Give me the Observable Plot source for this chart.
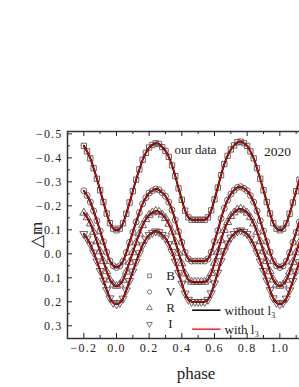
<!DOCTYPE html>
<html><head><meta charset="utf-8">
<script src="https://cdn.jsdelivr.net/npm/d3@7"></script>
<script src="https://cdn.jsdelivr.net/npm/@observablehq/plot@0.6"></script>
<style>
html,body{margin:0;padding:0;overflow:hidden;background:#fff;width:299px;height:387px}
#chart{width:299px;height:387px;overflow:hidden}
#chart svg{display:block;max-width:none!important;width:312px!important;height:387px!important}
#chart [aria-label$="tick label"] text{letter-spacing:1.2px}
</style></head><body><div id="chart"></div>
<script>
const phase = [-0.20,-0.18,-0.16,-0.14,-0.12,-0.10,-0.08,-0.06,-0.04,-0.02,0.00,0.02,0.04,0.06,0.08,0.10,0.12,0.14,0.16,0.18,0.20,0.22,0.24,0.26,0.28,0.30,0.32,0.34,0.36,0.38,0.40,0.42,0.44,0.46,0.48,0.50,0.52,0.54,0.56,0.58,0.60,0.62,0.64,0.66,0.68,0.70,0.72,0.74,0.76,0.78,0.80,0.82,0.84,0.86,0.88,0.90,0.92,0.94,0.96,0.98,1.00,1.02,1.04,1.06,1.08,1.10,1.12,1.14,1.16,1.18,1.20];
const magB = [-0.450,-0.427,-0.398,-0.357,-0.313,-0.265,-0.216,-0.168,-0.128,-0.105,-0.098,-0.105,-0.127,-0.167,-0.214,-0.261,-0.309,-0.352,-0.392,-0.421,-0.443,-0.454,-0.461,-0.458,-0.445,-0.429,-0.404,-0.369,-0.324,-0.273,-0.225,-0.180,-0.152,-0.142,-0.142,-0.142,-0.142,-0.142,-0.152,-0.181,-0.227,-0.276,-0.328,-0.374,-0.409,-0.435,-0.452,-0.465,-0.468,-0.461,-0.450,-0.427,-0.398,-0.357,-0.313,-0.265,-0.216,-0.168,-0.128,-0.105,-0.098,-0.105,-0.127,-0.167,-0.214,-0.261,-0.309,-0.352,-0.392,-0.421,-0.443];
const magV = [-0.263,-0.243,-0.216,-0.179,-0.138,-0.095,-0.051,-0.007,0.030,0.050,0.057,0.050,0.031,-0.005,-0.048,-0.090,-0.133,-0.172,-0.208,-0.234,-0.254,-0.263,-0.270,-0.267,-0.255,-0.240,-0.216,-0.183,-0.141,-0.093,-0.048,-0.006,0.021,0.030,0.030,0.030,0.030,0.030,0.021,-0.007,-0.051,-0.097,-0.147,-0.190,-0.224,-0.249,-0.265,-0.277,-0.280,-0.273,-0.263,-0.243,-0.216,-0.179,-0.138,-0.095,-0.051,-0.007,0.030,0.050,0.057,0.050,0.031,-0.005,-0.048,-0.090,-0.133,-0.172,-0.208,-0.234,-0.254];
const magR = [-0.171,-0.152,-0.126,-0.091,-0.052,-0.010,0.031,0.073,0.108,0.128,0.134,0.128,0.109,0.075,0.034,-0.006,-0.047,-0.084,-0.119,-0.144,-0.162,-0.172,-0.178,-0.175,-0.163,-0.149,-0.125,-0.092,-0.051,-0.004,0.040,0.082,0.108,0.117,0.117,0.117,0.117,0.117,0.108,0.081,0.038,-0.008,-0.056,-0.099,-0.132,-0.157,-0.172,-0.184,-0.187,-0.181,-0.171,-0.152,-0.126,-0.091,-0.052,-0.010,0.031,0.073,0.108,0.128,0.134,0.128,0.109,0.075,0.034,-0.006,-0.047,-0.084,-0.119,-0.144,-0.162];
const magI = [-0.083,-0.064,-0.039,-0.006,0.031,0.071,0.111,0.151,0.185,0.204,0.210,0.204,0.186,0.152,0.113,0.073,0.034,-0.003,-0.036,-0.061,-0.079,-0.088,-0.094,-0.091,-0.079,-0.065,-0.041,-0.009,0.032,0.079,0.124,0.165,0.191,0.200,0.200,0.200,0.200,0.200,0.191,0.164,0.123,0.078,0.030,-0.012,-0.044,-0.068,-0.083,-0.095,-0.098,-0.092,-0.083,-0.064,-0.039,-0.006,0.031,0.071,0.111,0.151,0.185,0.204,0.210,0.204,0.186,0.152,0.113,0.073,0.034,-0.003,-0.036,-0.061,-0.079];
const bands = ["B","V","R","I"];
const xLabels = [-0.2,0.0,0.2,0.4,0.6,0.8,1.0];
const xMajor = [-0.2,0.0,0.2,0.4,0.6,0.8,1.0,1.2];
const xMinor = [-0.3,-0.1,0.1,0.3,0.5,0.7,0.9,1.1];
const yMajor = [-0.5,-0.4,-0.3,-0.2,-0.1,0.0,0.1,0.2,0.3];
const yMinor = [-0.45,-0.35,-0.25,-0.15,-0.05,0.05,0.15,0.25];
const lineLabels = ["without l\u2083","with l\u2083"];

const triDown = {draw(ctx, size){const s3=Math.sqrt(3);const y=-Math.sqrt(size/(s3*3));ctx.moveTo(0,-y*2);ctx.lineTo(-s3*y,y);ctx.lineTo(s3*y,y);ctx.closePath();}};
const symbols = {B:"square",V:"circle",R:"triangle",I:triDown};
const series = {B:magB,V:magV,R:magR,I:magI};
const rows = bands.flatMap(b => phase.map((p,i)=>({phase:p, mag:series[b][i], band:b})));
const fmt = d => (d < 0 ? "\u2212" : "") + Math.abs(d).toFixed(1);
const ink = "#222";
const H = 387, MT = 131, MB = 49, ML = 67, W = 312;
const FH = H - MT - MB, FW = W - ML;

const marks = [];
for (const b of bands) {
  marks.push(Plot.dot(rows.filter(r=>r.band===b), {x:"phase", y:"mag", symbol: () => symbols[b], r:3, stroke:"#555", strokeWidth:0.9, fill:"none"}));
}
for (const b of bands) marks.push(Plot.line(rows.filter(r=>r.band===b), {x:"phase", y:"mag", curve:"catmull-rom", stroke:"black", strokeWidth:2}));
for (const b of bands) marks.push(Plot.line(rows.filter(r=>r.band===b), {x:"phase", y:"mag", curve:"catmull-rom", stroke:"#ff0000", strokeWidth:1.1}));

// inward ticks
marks.push(Plot.tickX(xMajor, {x:d=>d, insetTop:FH-5, stroke:ink, strokeWidth:1}));
marks.push(Plot.tickX(xMinor, {x:d=>d, insetTop:FH-3, stroke:ink, strokeWidth:1}));
marks.push(Plot.tickX(xMajor, {x:d=>d, insetBottom:FH-5, stroke:ink, strokeWidth:1}));
marks.push(Plot.tickX(xMinor, {x:d=>d, insetBottom:FH-3, stroke:ink, strokeWidth:1}));
marks.push(Plot.tickY(yMajor, {y:d=>d, insetRight:FW-5, stroke:ink, strokeWidth:1}));
marks.push(Plot.tickY(yMinor, {y:d=>d, insetRight:FW-3, stroke:ink, strokeWidth:1}));
marks.push(Plot.frame({stroke:"#333", strokeWidth:1.5}));
marks.push(Plot.axisX({ticks:xLabels, tickSize:0, tickPadding:5, tickFormat:fmt, fontSize:12, fill:ink, label:null}));
marks.push(Plot.axisY({ticks:yMajor, tickSize:0, tickPadding:5, tickFormat:fmt, fontSize:12, fill:ink, label:null}));

// axis titles
marks.push(Plot.text(["\u25B3m"], {frameAnchor:"left", dx:-31, rotate:-90, fontSize:17, fill:ink, textAnchor:"middle", lineAnchor:"middle"}));
marks.push(Plot.text(["phase"], {frameAnchor:"bottom", dx:6, dy:35, fontSize:17, fill:ink, textAnchor:"middle", lineAnchor:"middle"}));

// annotations
marks.push(Plot.text(["our data"], {frameAnchor:"top-left", dx:128, dy:18, fontSize:13, fill:ink, textAnchor:"middle", lineAnchor:"middle"}));
marks.push(Plot.text(["2020"], {frameAnchor:"top-left", dx:210, dy:20, fontSize:13.5, fill:ink, textAnchor:"middle", lineAnchor:"middle"}));

// legend: symbols
bands.forEach((b,i)=>{
  marks.push(Plot.dot([b], {frameAnchor:"top-left", dx:82, dy:144.3+i*16.1, symbol:()=>symbols[b], r:2.1, stroke:"#6a6a6a", strokeWidth:0.9, fill:"none"}));
  marks.push(Plot.text([b], {frameAnchor:"top-left", dx:103, dy:144.3+i*16.1, text:d=>d, fontSize:13, fill:ink, textAnchor:"middle", lineAnchor:"middle"}));
});
// legend: lines
marks.push(Plot.ruleY([0.235], {x1:0.466, x2:0.640, stroke:"black", strokeWidth:1.5}));
marks.push(Plot.ruleY([0.314], {x1:0.466, x2:0.640, stroke:"#ff0000", strokeWidth:1.3}));
lineLabels.forEach((t,i)=>{
  marks.push(Plot.text([t], {frameAnchor:"top-left", dx:157, dy:179+i*19, text:d=>d, fontSize:13, fill:ink, textAnchor:"start", lineAnchor:"middle"}));
});

const chart = Plot.plot({
  width: W, height: H,
  marginTop: MT, marginBottom: MB, marginLeft: ML, marginRight: 0,
  style: {fontFamily:"'Liberation Serif','Times New Roman',serif", fontSize:"12px", background:"white", color:ink},
  x: {domain:[-0.3,1.2], axis:null},
  y: {domain:[0.353,-0.51], axis:null},
  marks
});
document.getElementById("chart").appendChild(chart);
</script></body></html>
